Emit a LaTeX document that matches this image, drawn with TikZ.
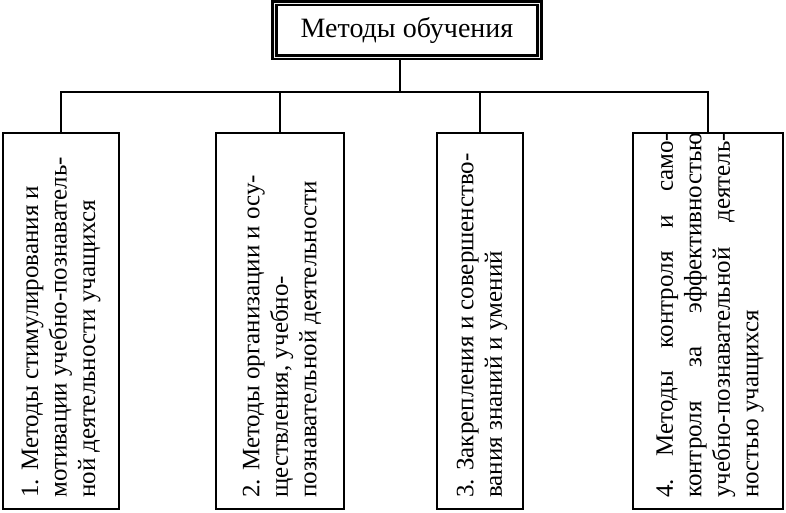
\documentclass[tikz,border=0pt]{standalone}
\usepackage{fontspec}
\setmainfont{Liberation Serif}
\newcommand{\jl}[1]{\hbox to 365pt{#1}}
\begin{document}
\begin{tikzpicture}[x=1pt,y=-1pt,
  vbox/.style={draw,line width=1.2pt,inner sep=0pt},
  vtext/.style={rotate=90,font=\fontsize{25}{28.5}\selectfont,inner sep=0pt},
  conn/.style={line width=1.1pt}]
\useasboundingbox[fill=white] (0,0) rectangle (786,512);
\node[draw,line width=3pt,minimum width=265pt,minimum height=54pt,inner sep=0pt,double=white!95!black,double distance=0.8pt,font=\fontsize{28}{32}\selectfont] (top) at (407,30) {Методы обучения};
\node[vbox,minimum width=116pt,minimum height=376pt] (b1) at (61,321) {};
\node[vbox,minimum width=128pt,minimum height=376pt] (b2) at (280,321) {};
\node[vbox,minimum width=86pt,minimum height=376pt] (b3) at (480,321) {};
\node[vbox,minimum width=150pt,minimum height=376pt] (b4) at (708,321) {};
\coordinate (h) at (400,92);
\draw[conn] (top.south -| h) -- (h);
\draw[conn] (b1.north) -- (61,92) -- (708,92) -- (b4.north);
\draw[conn] (b2.north) -- (280,92);
\draw[conn] (b3.north) -- (480,92);
\node[vtext,align=left,anchor=west] (t1) at (61,498) {1. Методы стимулирования и\\мотивации учебно-познаватель-\\ной деятельности учащихся};
\node[vtext,align=left,anchor=west] (t2) at (282,498) {2. Методы организации и осу-\\ществления, учебно-\\познавательной деятельности};
\node[vtext,align=left,anchor=west] (t3) at (482,498) {3. Закрепления и совершенство-\\вания знаний и умений};
\node[vtext,align=left,anchor=west] (t4) at (710,498) {\jl{4.\hfill Методы\hfill контроля\hfill и\hfill само-}\\\jl{контроля\hfill за\hfill эффективностью}\\\jl{учебно-познавательной\hfill деятель-}\\ностью учащихся};
\end{tikzpicture}
\end{document}
